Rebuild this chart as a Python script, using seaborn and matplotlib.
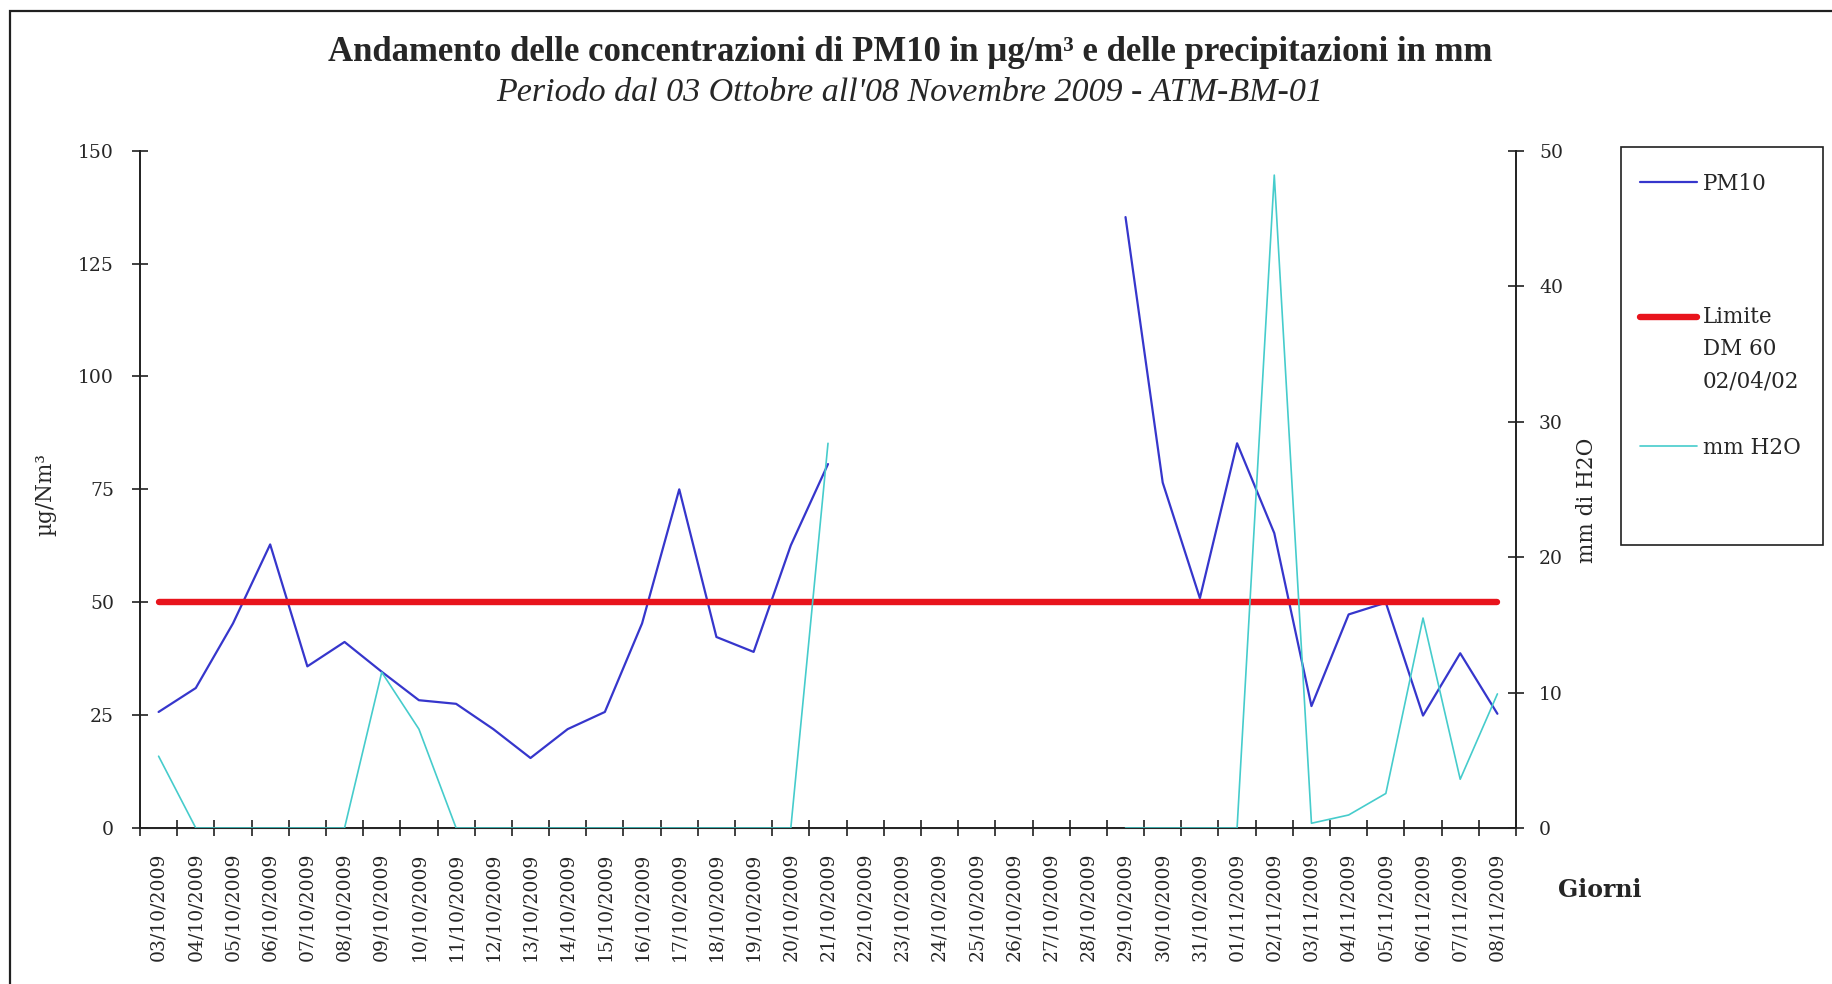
"""PM10 e precipitazioni - ATM-BM-01, ottobre/novembre 2009"""

import numpy as np
import pandas as pd
import matplotlib.pyplot as plt
import matplotlib.patches as mpatches
from matplotlib.transforms import Affine2D
import seaborn as sns

NA = np.nan

giorni = [
    "03/10/2009", "04/10/2009", "05/10/2009", "06/10/2009", "07/10/2009",
    "08/10/2009", "09/10/2009", "10/10/2009", "11/10/2009", "12/10/2009",
    "13/10/2009", "14/10/2009", "15/10/2009", "16/10/2009", "17/10/2009",
    "18/10/2009", "19/10/2009", "20/10/2009", "21/10/2009", "22/10/2009",
    "23/10/2009", "24/10/2009", "25/10/2009", "26/10/2009", "27/10/2009",
    "28/10/2009", "29/10/2009", "30/10/2009", "31/10/2009", "01/11/2009",
    "02/11/2009", "03/11/2009", "04/11/2009", "05/11/2009", "06/11/2009",
    "07/11/2009", "08/11/2009",
]

# concentrazioni PM10 in ug/Nm3 (vuoti dal 22 al 28 ottobre)
pm10 = [
    25.7, 31.0, 45.3, 62.8, 35.8, 41.2, 34.6, 28.3, 27.5, 21.9,
    15.5, 21.9, 25.7, 45.3, 75.0, 42.3, 39.0, 62.6, 80.6,
    NA, NA, NA, NA, NA, NA, NA,
    135.3, 76.5, 50.9, 85.2, 65.3, 27.0, 47.3, 49.9, 24.9, 38.7, 25.3,
]

# precipitazioni in mm
pioggia = [
    5.3, 0, 0, 0, 0, 0, 11.5, 7.3, 0, 0,
    0, 0, 0, 0, 0, 0, 0, 0, 28.4,
    NA, NA, NA, NA, NA, NA, NA,
    0, 0, 0, 0, 48.2, 0.35, 0.96, 2.55, 15.5, 3.6, 9.9,
]

LIMITE = 50

df = pd.DataFrame({"idx": range(len(giorni)), "giorno": giorni,
                   "pm10": pm10, "pioggia": pioggia, "limite": LIMITE})
# tratti separati dove mancano i dati, cosi' la linea si interrompe
df["tratto_pm"] = df["pm10"].isna().cumsum()
df["tratto_h2o"] = df["pioggia"].isna().cumsum()

sns.set_style("ticks")
plt.rcParams["font.family"] = ["DejaVu Serif"]

fig = plt.figure(figsize=(18.32, 9.84), dpi=100)
ax = fig.add_axes([0.07642, 0.15854, 0.75109, 0.68831])
ax2 = ax.twinx()

BLU = "#3636CC"
ROSSO = "#E8141C"
CIANO = "#46CCCC"

sns.lineplot(data=df, x="idx", y="pm10", units="tratto_pm", estimator=None,
             color=BLU, lw=1.6, ax=ax, legend=False)
h_pm = ax.lines[0]
sns.lineplot(data=df, x="idx", y="limite", color=ROSSO, lw=4.6, ax=ax,
             legend=False)
h_lim = ax.lines[-1]
sns.lineplot(data=df, x="idx", y="pioggia", units="tratto_h2o", estimator=None,
             color=CIANO, lw=1.2, ax=ax2, legend=False)
h_h2o = ax2.lines[0]

ax.set_xlim(-0.5, len(giorni) - 0.5)
ax.set_ylim(0, 150)
ax2.set_ylim(0, 50)
ax.set_yticks(range(0, 151, 25))
ax2.set_yticks(range(0, 51, 10))
ax.set_xticks(range(len(giorni)))
ax.set_xticklabels(giorni, rotation=90, va="top", ha="center")
ax.set_xticks(np.arange(-0.5, len(giorni)), minor=True)
for a in (ax, ax2):
    a.set_xlabel("")
    a.set_ylabel("")
    a.spines["top"].set_visible(False)
ax.spines["right"].set_visible(False)
ax2.spines["left"].set_visible(False)
for s in ("left", "bottom"):
    ax.spines[s].set_linewidth(1.4)
    ax.spines[s].set_color("#202020")
ax2.spines["right"].set_linewidth(1.4)
ax2.spines["right"].set_color("#202020")

ax.tick_params(axis="x", which="major", length=0, pad=18, labelsize=13.5)
ax.tick_params(axis="x", which="minor", direction="inout", length=11.5,
               width=1.2, color="#202020")
ax.tick_params(axis="y", direction="inout", length=11.5, width=1.2,
               pad=13, labelsize=13.5, color="#202020")
ax2.tick_params(axis="y", direction="inout", length=11.5, width=1.2,
                pad=10.8, labelsize=13.5, color="#202020")

fig.text(0.4967, 0.947,
         "Andamento delle concentrazioni di PM10 in µg/m³ e delle precipitazioni in mm",
         ha="center", va="center", fontsize=25, fontweight="bold",
         family=["Liberation Serif", "DejaVu Serif"])
fig.text(0.4967, 0.906,
         "Periodo dal 03 Ottobre all'08 Novembre 2009 - ATM-BM-01",
         ha="center", va="center", fontsize=24.5, style="italic",
         family=["Liberation Serif", "DejaVu Serif"])
fig.text(0.0245, 0.497, "µg/Nm³", rotation=90, ha="center", va="center",
         fontsize=15.5)
fig.text(0.866, 0.492, "mm di H2O", rotation=90, ha="center", va="center",
         fontsize=15.5)
fig.text(0.8734, 0.0955, "Giorni", ha="center", va="center", fontsize=17,
         fontweight="bold")

# riquadro legenda e cornice del grafico
fig.patches.append(mpatches.Rectangle((0.8848, 0.4461), 0.1103, 0.4045,
                                      transform=fig.transFigure, fill=False,
                                      edgecolor="#202020", lw=1.2))
fig.patches.append(mpatches.Rectangle((0.0057, -0.1), 1.2, 1.0893,
                                      transform=fig.transFigure, fill=False,
                                      edgecolor="#202020", lw=1.6))

leg = fig.legend([h_pm, h_lim, h_h2o],
                 ["PM10", "Limite\nDM 60\n02/04/02", "mm H2O"],
                 loc="upper left", bbox_to_anchor=(0.8952, 0.8243),
                 frameon=False, borderpad=0, borderaxespad=0,
                 handlelength=2.65, handletextpad=0.28, labelspacing=3.6,
                 fontsize=15.5)
for t in leg.get_texts():
    t.set_linespacing(1.62)
# la linea del limite sta all'altezza della prima riga del testo
t_lim = leg.get_texts()[1]
t_lim.set_transform(t_lim.get_transform() + Affine2D().translate(0, -33.5))

fig.savefig("out.png", dpi=100)
plt.close(fig)
